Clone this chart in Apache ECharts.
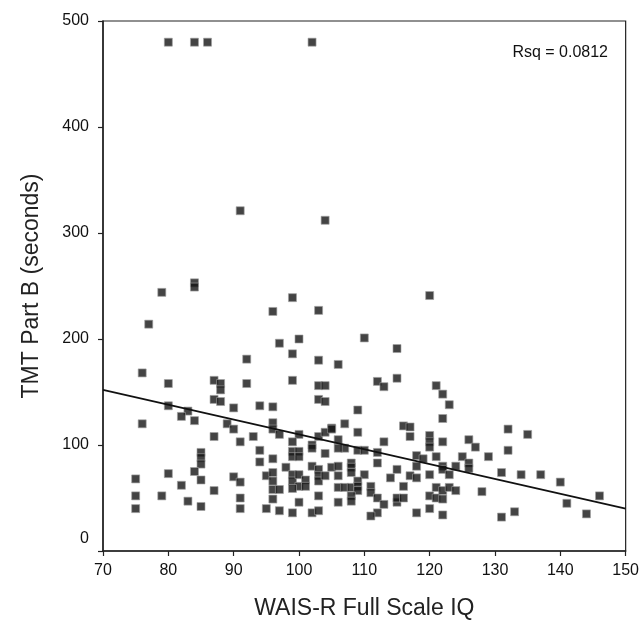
<!DOCTYPE html>
<html>
<head>
<meta charset="utf-8">
<script src="https://cdn.jsdelivr.net/npm/echarts@6/dist/echarts.min.js"></script>
<style>
  html, body { margin: 0; padding: 0; background: #fff; }
  #chart { width: 642px; height: 637px; }
</style>
</head>
<body>
<div id="chart"></div>
<script>
// WAIS-R Full Scale IQ (x) vs TMT Part B seconds (y)
const iq = [
  80, 84, 86, 102,
  91, 104,
  84, 84, 79, 99, 120,
  96, 103, 77,
  100, 110, 97, 115, 99, 92, 103, 106, 76,
  87, 99, 115, 80, 88, 92, 103, 104, 121, 112, 113, 88, 122,
  87, 88, 103, 104, 80, 94, 96, 90, 109, 83, 123,
  82, 122, 84, 76, 89, 96, 107, 105, 90, 116, 117, 96, 132,
  87, 93, 91, 97, 100, 99, 102, 103, 104, 105, 106, 109, 107, 109, 110, 112, 113, 117, 120, 120, 120, 122, 135, 126, 127, 132,
  94, 94, 85, 85, 85, 96, 99, 99, 100, 100, 102, 104, 106, 112, 118, 119, 118, 121, 122, 122, 125, 129,
  84, 80, 75, 85, 90, 91, 82, 87, 75, 79, 83, 91, 75, 85, 91,
  98, 102, 103, 105, 106, 108, 108, 108, 110, 115, 114, 117, 118, 120, 95, 96, 96, 99, 99, 100, 100, 101, 101,
  103, 103, 104, 106, 106, 107, 108, 109, 109, 109, 108, 108, 99, 96, 96, 97, 95, 97, 99, 100, 102, 103, 103, 106,
  111, 111, 112, 113, 112, 111, 115, 115, 116, 116, 118, 120, 120, 121, 121, 122, 122, 122,
  123, 124, 126, 126, 131, 134, 137, 140, 146, 123, 124, 128, 141, 144, 133, 131
];
const tmt = [
  480, 480, 480, 480,
  321, 312,
  253, 249, 244, 239, 241,
  226, 227, 214,
  200, 201, 196, 191, 186, 181, 180, 176, 168,
  161, 161, 163, 158, 158, 158, 156, 156, 156, 160, 155, 152, 148,
  143, 141, 143, 141, 137, 137, 136, 135, 133, 132, 138,
  127, 125, 123, 120, 120, 121, 120, 116, 115, 118, 117, 115, 115,
  108, 108, 103, 110, 110, 103, 100, 108, 112, 115, 105, 112, 97, 95, 95, 93, 103, 108, 109, 103, 98, 103, 110, 105, 98, 95,
  95, 84, 93, 88, 82, 87, 94, 89, 94, 89, 97, 92, 97, 83, 90, 87, 80, 89, 80, 77, 89, 89,
  75, 73, 68, 67, 70, 65, 62, 57, 52, 52, 47, 50, 40, 42, 40,
  79, 80, 77, 79, 80, 83, 79, 74, 72, 77, 69, 71, 69, 72, 71, 74, 66, 72, 66, 72, 61, 67, 61,
  71, 66, 71, 71, 60, 60, 60, 66, 61, 57, 52, 47, 59, 58, 49, 58, 40, 38, 36, 46, 36, 38, 52, 46,
  61, 55, 50, 44, 36, 33, 46, 50, 61, 50, 36, 52, 40, 60, 50, 57, 49, 34,
  72, 80, 83, 78, 74, 72, 72, 65, 52, 60, 57, 56, 45, 35, 37, 32
];

// fitted line end points
const fitX = [70, 150];
const fitY = [152, 40];

const rsqLabel = 'Rsq = 0.0812';
const FONT = '"Liberation Sans", Arial, sans-serif';

const chart = echarts.init(document.getElementById('chart'));
chart.setOption({
  animation: false,
  backgroundColor: '#fff',
  textStyle: { fontFamily: FONT },
  grid: {
    left: 103,
    right: 15,
    top: 21,
    bottom: 86,
    show: true,
    borderColor: '#222',
    borderWidth: 1.2,
  },
  graphic: [{
    type: 'text',
    right: 34,
    top: 45,
    style: { text: rsqLabel, font: '16px ' + FONT, fill: '#111' },
  }],
  xAxis: {
    type: 'value',
    min: 70,
    max: 150,
    interval: 10,
    name: 'WAIS-R Full Scale IQ',
    nameLocation: 'middle',
    nameGap: 46,
    nameTextStyle: { fontSize: 23, color: '#222', fontFamily: FONT },
    axisLine: { lineStyle: { color: '#222', width: 1.5 } },
    axisTick: { length: 5, lineStyle: { color: '#222', width: 1.2 } },
    axisLabel: { fontSize: 16, color: '#111', margin: 12, fontFamily: FONT },
    splitLine: { show: false },
  },
  yAxis: {
    type: 'value',
    min: 0,
    max: 500,
    interval: 100,
    name: 'TMT Part B (seconds)',
    nameLocation: 'middle',
    nameGap: 60,
    nameTextStyle: { fontSize: 23, color: '#222', fontFamily: FONT },
    axisLine: { lineStyle: { color: '#222', width: 1.5 } },
    axisTick: { length: 5, lineStyle: { color: '#222', width: 1.2 } },
    axisLabel: {
      fontSize: 16,
      color: '#111',
      margin: 14,
      fontFamily: FONT,
      formatter: v => (v === 0 ? '{z|0}' : String(v)),
      rich: { z: { fontSize: 16, color: '#111', padding: [0, 0, 24, 0], fontFamily: FONT } },
    },
    splitLine: { show: false },
  },
  series: [
    {
      type: 'scatter',
      data: iq.map((x, i) => [x, tmt[i]]),
      symbol: 'rect',
      symbolSize: 8,
      itemStyle: { color: '#151515', borderColor: '#a0a0a0', borderWidth: 0.8 },
      silent: true,
    },
    {
      type: 'line',
      data: fitX.map((x, i) => [x, fitY[i]]),
      showSymbol: false,
      lineStyle: { color: '#111', width: 1.6 },
      silent: true,
      z: 3,
    },
  ],
});
</script>
</body>
</html>
